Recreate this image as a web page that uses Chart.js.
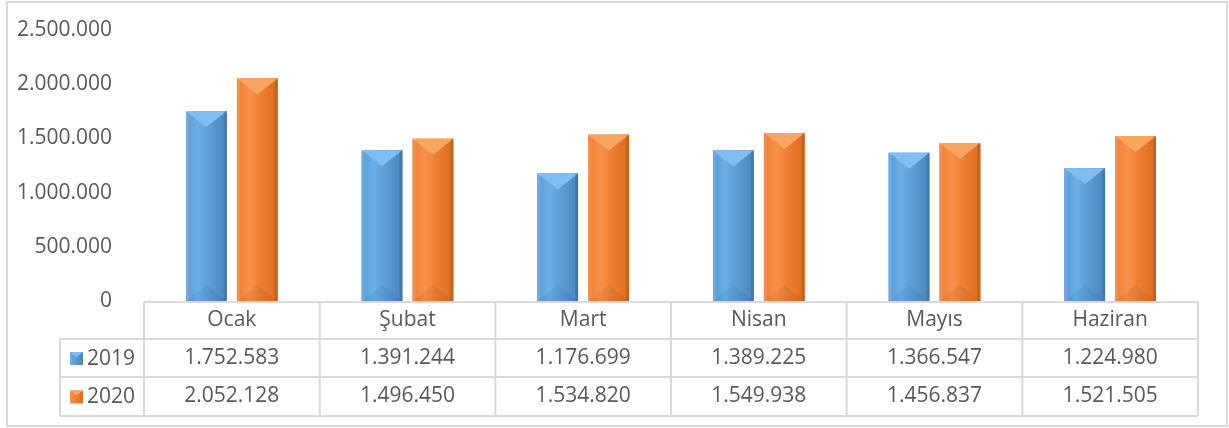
<!DOCTYPE html>
<html>
<head>
<meta charset="utf-8">
<script src="https://cdn.jsdelivr.net/npm/chart.js@4"></script>
<style>
  html, body { margin: 0; padding: 0; background: #fff; }
  #wrap { width: 1229px; height: 428px; }
</style>
</head>
<body>
<div id="wrap"><canvas id="aylikChart" width="1229" height="428"></canvas></div>
<script>
const aylar = ['Ocak', 'Şubat', 'Mart', 'Nisan', 'Mayıs', 'Haziran'];
const seri2019 = [1752583, 1391244, 1176699, 1389225, 1366547, 1224980];
const seri2020 = [2052128, 1496450, 1534820, 1549938, 1456837, 1521505];
const yTicks = [0, 500000, 1000000, 1500000, 2000000, 2500000];

const FONT = '"Open Sans", sans-serif';
const TEXT = '#595959';
const LINE = '#d9d9d9';

const renkler = {
  '2019': { light: '#6aaee8', mid: '#5b9bd5', dark: '#4a84bd', top: '#80bdf0' },
  '2020': { light: '#f9914a', mid: '#ed7d31', dark: '#d96c22', top: '#f8a560' }
};

function fmt(n) {
  return n.toString().replace(/\B(?=(\d{3})+(?!\d))/g, '.');
}

function barGradient(ctx, el, c) {
  const left = el.x - el.width / 2, right = el.x + el.width / 2;
  const g = ctx.createLinearGradient(left, 0, right, 0);
  g.addColorStop(0, c.mid);
  g.addColorStop(0.3, c.light);
  g.addColorStop(0.6, c.mid);
  g.addColorStop(1, c.dark);
  return g;
}

// bevel look + outer frame + data table under the plot
const bevelPlugin = {
  id: 'bevel',
  afterDatasetsDraw(chart) {
    const ctx = chart.ctx;
    chart.data.datasets.forEach((ds, di) => {
      const c = renkler[ds.label];
      chart.getDatasetMeta(di).data.forEach(el => {
        const l = el.x - el.width / 2, r = el.x + el.width / 2;
        const t = el.y, b = el.base;
        const h = Math.min(16, (b - t) / 2);
        ctx.save();
        ctx.fillStyle = barGradient(ctx, el, c);
        ctx.fillRect(l, t, r - l, b - t);
        // top triangle highlight
        ctx.beginPath();
        ctx.moveTo(l, t);
        ctx.lineTo(r, t);
        ctx.lineTo(el.x, t + h);
        ctx.closePath();
        ctx.fillStyle = c.top;
        ctx.fill();
        // side bevel strips
        ctx.fillStyle = 'rgba(255,255,255,0.12)';
        ctx.fillRect(l, t, 3, b - t);
        ctx.fillStyle = 'rgba(0,0,0,0.10)';
        ctx.fillRect(r - 3, t, 3, b - t);
        // bottom shading
        ctx.beginPath();
        ctx.moveTo(l, b);
        ctx.lineTo(r, b);
        ctx.lineTo(el.x, b - h);
        ctx.closePath();
        ctx.fillStyle = 'rgba(0,0,0,0.05)';
        ctx.fill();
        ctx.restore();
      });
    });
  },
  afterDraw(chart) {
    const ctx = chart.ctx;
    const x = chart.scales.x;
    const area = chart.chartArea;
    const colW = (area.right - area.left) / aylar.length;
    const y0 = area.bottom + 1;
    const rowTops = [y0, y0 + 37, y0 + 75, y0 + 114];
    const legL = 60;

    ctx.save();
    ctx.strokeStyle = LINE;
    ctx.lineWidth = 2;
    // outer frame
    ctx.strokeRect(7, 2, 1220, 424);

    // horizontal lines
    ctx.beginPath();
    ctx.moveTo(area.left, rowTops[0]); ctx.lineTo(area.right, rowTops[0]);
    for (let i = 1; i < rowTops.length; i++) {
      ctx.moveTo(legL, rowTops[i]); ctx.lineTo(area.right, rowTops[i]);
    }
    // vertical lines
    ctx.moveTo(legL, rowTops[1]); ctx.lineTo(legL, rowTops[3]);
    for (let i = 0; i <= aylar.length; i++) {
      const vx = area.left + i * colW;
      ctx.moveTo(vx, rowTops[0]); ctx.lineTo(vx, rowTops[3]);
    }
    ctx.stroke();

    ctx.fillStyle = TEXT;
    ctx.font = '21px ' + FONT;
    ctx.textAlign = 'center';
    ctx.textBaseline = 'middle';
    aylar.forEach((ay, i) => {
      const cx = x.getPixelForValue(i);
      ctx.fillText(ay, cx, (rowTops[0] + rowTops[1]) / 2);
      ctx.fillText(fmt(seri2019[i]), cx, (rowTops[1] + rowTops[2]) / 2);
      ctx.fillText(fmt(seri2020[i]), cx, (rowTops[2] + rowTops[3]) / 2);
    });

    // legend keys
    chart.data.datasets.forEach((ds, di) => {
      const cy = (rowTops[1 + di] + rowTops[2 + di]) / 2;
      const c = renkler[ds.label];
      const g = ctx.createLinearGradient(70, 0, 83, 0);
      g.addColorStop(0, c.light);
      g.addColorStop(1, c.dark);
      ctx.fillStyle = g;
      ctx.fillRect(70, cy - 6, 13, 13);
      ctx.fillStyle = c.top;
      ctx.beginPath();
      ctx.moveTo(70, cy - 6); ctx.lineTo(83, cy - 6); ctx.lineTo(76.5, cy - 1);
      ctx.closePath();
      ctx.fill();
      ctx.fillStyle = TEXT;
      ctx.textAlign = 'left';
      ctx.fillText(ds.label, 87, cy + 1);
    });
    ctx.restore();
  }
};

new Chart(document.getElementById('aylikChart'), {
  type: 'bar',
  data: {
    labels: aylar,
    datasets: [
      { label: '2019', data: seri2019, backgroundColor: renkler['2019'].mid },
      { label: '2020', data: seri2020, backgroundColor: renkler['2020'].mid }
    ]
  },
  options: {
    responsive: false,
    animation: false,
    events: [],
    layout: { padding: { left: 6, right: 31, top: 30, bottom: 127 } },
    datasets: { bar: { categoryPercentage: 0.58, barPercentage: 0.8 } },
    plugins: { legend: { display: false }, tooltip: { enabled: false } },
    scales: {
      x: { display: false },
      y: {
        min: 0,
        max: 2500000,
        afterFit(scale) {
          scale.width = 138;
          scale.paddingTop = 0;
          scale.paddingBottom = 0;
        },
        afterBuildTicks(scale) { scale.ticks = yTicks.map(v => ({ value: v })); },
        grid: { display: false },
        border: { display: false },
        ticks: {
          padding: 24,
          color: TEXT,
          font: { family: FONT, size: 21 },
          callback: v => fmt(v)
        }
      }
    }
  },
  plugins: [bevelPlugin]
});
</script>
</body>
</html>
